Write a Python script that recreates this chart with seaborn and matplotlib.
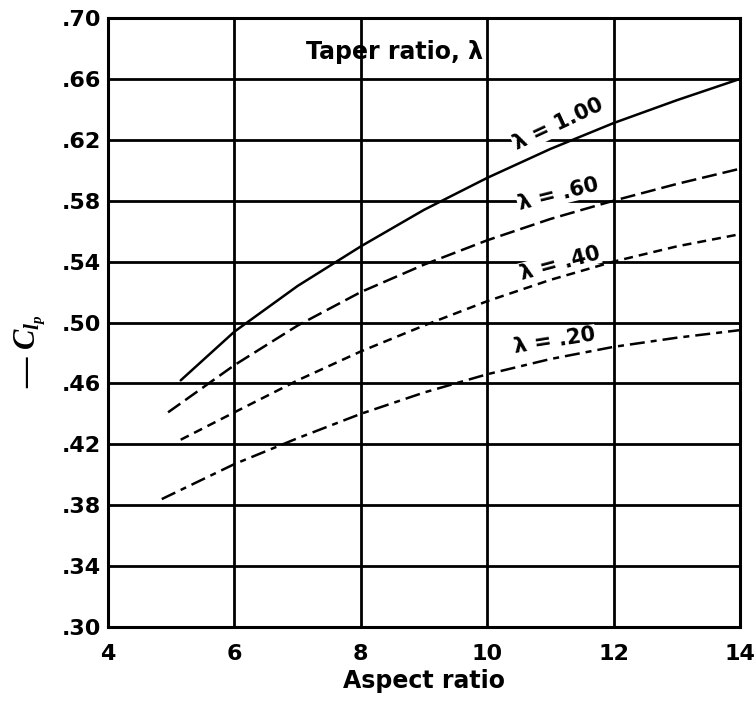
import matplotlib
matplotlib.use("Agg")
import matplotlib.pyplot as plt
import seaborn as sns
import pandas as pd

# Data
aspect_100 = [5.15, 6, 7, 8, 9, 10, 11, 12, 13, 14]
clp_100 = [0.462, 0.494, 0.524, 0.550, 0.574, 0.595, 0.614, 0.631, 0.646, 0.660]
aspect_060 = [4.95, 6, 7, 8, 9, 10, 11, 12, 13, 14]
clp_060 = [0.441, 0.472, 0.498, 0.520, 0.538, 0.554, 0.568, 0.580, 0.591, 0.601]
aspect_040 = [5.15, 6, 7, 8, 9, 10, 11, 12, 13, 14]
clp_040 = [0.423, 0.441, 0.462, 0.481, 0.498, 0.514, 0.528, 0.540, 0.550, 0.558]
aspect_020 = [4.85, 6, 7, 8, 9, 10, 11, 12, 13, 14]
clp_020 = [0.384, 0.407, 0.424, 0.440, 0.454, 0.466, 0.476, 0.484, 0.490, 0.495]

series_labels = ["λ = 1.00", "λ = .60", "λ = .40", "λ = .20"]
x_ticks = [4, 6, 8, 10, 12, 14]
y_ticks = [0.30, 0.34, 0.38, 0.42, 0.46, 0.50, 0.54, 0.58, 0.62, 0.66, 0.70]
y_ticklabels = [".30", ".34", ".38", ".42", ".46", ".50", ".54", ".58", ".62", ".66", ".70"]

sns.set_style("white")
plt.rcParams["font.family"] = ["DejaVu Sans"]
plt.rcParams["text.color"] = "black"
plt.rcParams["axes.labelcolor"] = "black"
plt.rcParams["xtick.color"] = "black"
plt.rcParams["ytick.color"] = "black"
plt.rcParams["mathtext.fontset"] = "custom"
plt.rcParams["mathtext.rm"] = "Liberation Serif:bold"
plt.rcParams["mathtext.it"] = "Liberation Serif:bold:italic"

fig = plt.figure(figsize=(7.56, 7.04), dpi=100)
ax = fig.add_axes([0.1429, 0.1094, 0.9788 - 0.1429, 0.9744 - 0.1094])

styles = ["-", (0, (6, 2.4)), (0, (3.6, 2.4)), (0, (6, 2.4, 2.4, 2.4))]
data = [(aspect_100, clp_100), (aspect_060, clp_060), (aspect_040, clp_040), (aspect_020, clp_020)]
for (xs, ys), ls in zip(data, styles):
    df = pd.DataFrame({"Aspect ratio": xs, "Clp": ys})
    sns.lineplot(data=df, x="Aspect ratio", y="Clp", ax=ax, color="black",
                 linewidth=1.8, linestyle=ls, zorder=3)

ax.set_xlim(4, 14)
ax.set_ylim(0.30, 0.70)
ax.set_xticks(x_ticks)
ax.set_xticklabels([str(t) for t in x_ticks], fontsize=16, fontweight="bold")
ax.set_yticks(y_ticks)
ax.set_yticklabels(y_ticklabels, fontsize=16, fontweight="bold")
ax.tick_params(length=0, colors="black")
ax.tick_params(axis="x", pad=12)
ax.tick_params(axis="y", pad=5)
ax.grid(True, color="black", linewidth=2.0)
for s in ax.spines.values():
    s.set_color("black")
    s.set_linewidth(2.2)

ax.set_xlabel("Aspect ratio", fontsize=17, fontweight="bold", labelpad=4, color="black")
ax.set_ylabel("")
fig.text(30 / 756, 1 - 351 / 704, r"— $C_{l_p}$", fontsize=22, rotation=90,
         ha="center", va="center", family="Liberation Serif", fontweight="bold",
         color="black")

ax.text(9.93, 0.678, "Taper ratio, λ", fontsize=17, fontweight="bold",
        ha="right", va="center", zorder=4, color="black")

label_pos = [(11.12, 0.630, 25), (11.12, 0.584, 14), (11.15, 0.539, 15), (11.07, 0.488, 9)]
for lab, (lx, ly, rot) in zip(series_labels, label_pos):
    ax.text(lx, ly, lab, fontsize=15, fontweight="bold", ha="center", va="center",
            rotation=rot, rotation_mode="anchor", zorder=4, color="black",
            bbox=dict(facecolor="white", edgecolor="none", pad=0.3))

fig.savefig("out.png", dpi=100)
